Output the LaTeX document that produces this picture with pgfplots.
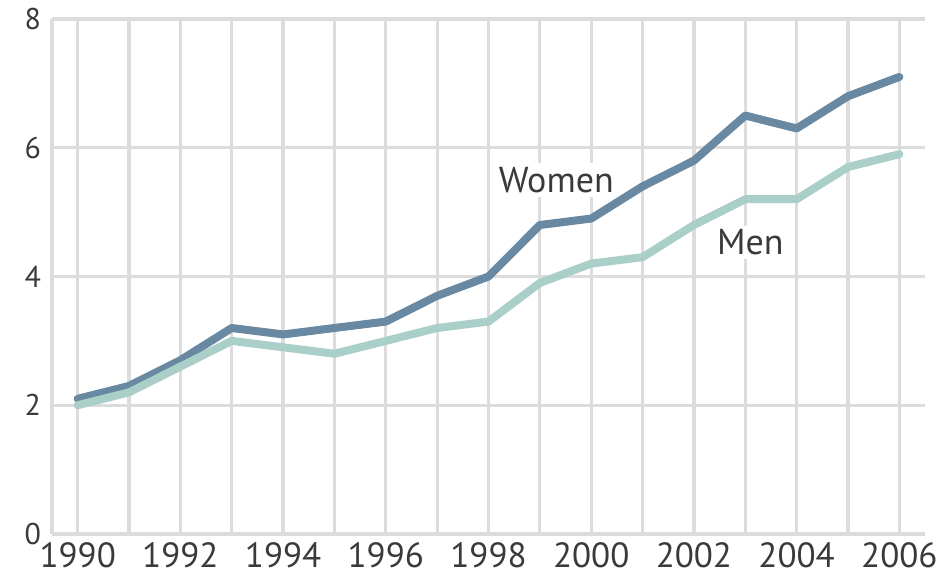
\documentclass[border=0pt]{standalone}
\usepackage{fontspec}
\setmainfont{PT Sans}
\usepackage{pgfplots}
\pgfplotsset{compat=1.18}

\definecolor{women}{HTML}{6889A1}
\definecolor{men}{HTML}{AACFC9}
\definecolor{gridgray}{HTML}{DCDCDC}
\definecolor{txt}{HTML}{3A3A3A}

\begin{document}
\begin{tikzpicture}
\begin{axis}[
scale only axis,width=436.5pt,height=257.5pt,
xmin=1989.5,xmax=2006.5,ymin=0,ymax=8,
axis x line=bottom,axis y line=left,
axis line style={gridgray,line width=1.6pt,-},
xtick={1990,1992,...,2006},minor xtick={1991,1993,...,2005},
ytick={0,2,4,6,8},
grid=both,major grid style={gridgray,line width=1.6pt},minor grid style={gridgray,line width=1.6pt},
major tick length=0pt,minor tick length=0pt,
/pgf/number format/assume math mode=true,
/pgf/number format/1000 sep={},
xticklabel style={font=\fontsize{17.5}{19}\selectfont,text=txt,yshift=-1pt},
yticklabel style={font=\fontsize{15}{17}\selectfont,text=txt,xshift=-2pt},
clip=false]
\addplot[women,line width=4pt,line join=round,line cap=round] coordinates {
(1990,2.1) (1991,2.3) (1992,2.7) (1993,3.2) (1994,3.1) (1995,3.2) (1996,3.3)
(1997,3.7) (1998,4.0) (1999,4.8) (2000,4.9) (2001,5.4) (2002,5.8) (2003,6.5)
(2004,6.3) (2005,6.8) (2006,7.1)};
\addplot[men,line width=4pt,line join=round,line cap=round] coordinates {
(1990,2.0) (1991,2.2) (1992,2.6) (1993,3.0) (1994,2.9) (1995,2.8) (1996,3.0)
(1997,3.2) (1998,3.3) (1999,3.9) (2000,4.2) (2001,4.3) (2002,4.8) (2003,5.2)
(2004,5.2) (2005,5.7) (2006,5.9)};
\node[fill=white,text=txt,font=\fontsize{18}{20}\selectfont,inner sep=2pt] at (axis cs:1999.32,5.5) {Women};
\node[fill=white,text=txt,font=\fontsize{18}{20}\selectfont,inner sep=2pt] at (axis cs:2003.1,4.53) {Men};
\end{axis}
\pgfresetboundingbox
\path ([shift={(-26pt,-21.5pt)}]current axis.south west) rectangle ([shift={(10.5pt,9.5pt)}]current axis.north east);
\end{tikzpicture}
\end{document}
